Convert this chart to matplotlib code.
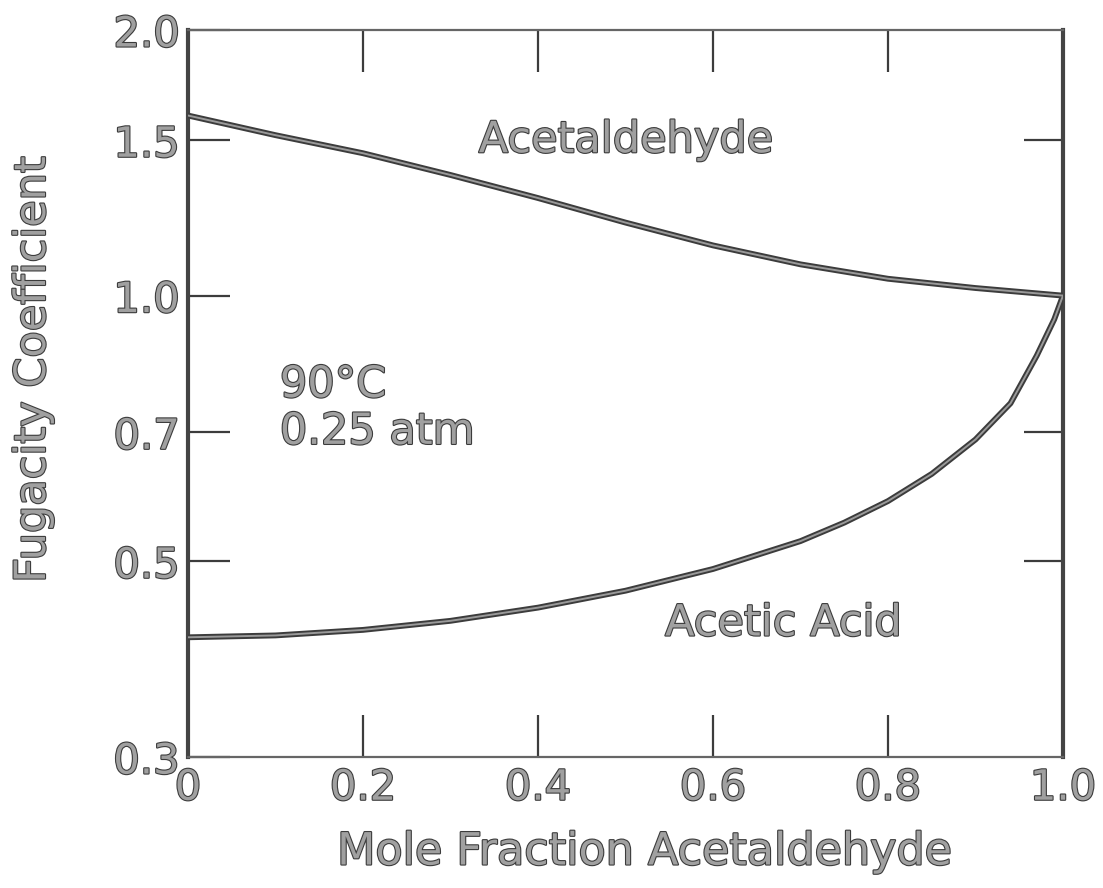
import matplotlib

matplotlib.use("Agg")
import matplotlib.pyplot as plt
import matplotlib.patheffects as pe
from matplotlib.ticker import FixedLocator, FixedFormatter, NullLocator

# mole fraction acetaldehyde vs fugacity coefficient
x_acetaldehyde = [0.0, 0.1, 0.2, 0.3, 0.4, 0.5, 0.6, 0.7, 0.8, 0.9, 1.0]
phi_acetaldehyde = [1.60, 1.52, 1.45, 1.37, 1.29, 1.21, 1.14, 1.085, 1.045, 1.02, 1.00]

x_acetic = [0.0, 0.1, 0.2, 0.3, 0.4, 0.5, 0.6, 0.7, 0.75, 0.8, 0.85, 0.9, 0.94, 0.97, 0.99, 1.0]
phi_acetic = [0.41, 0.412, 0.418, 0.428, 0.443, 0.463, 0.49, 0.527, 0.553, 0.585,
              0.628, 0.687, 0.755, 0.855, 0.94, 1.0]

x_ticks = [0.0, 0.2, 0.4, 0.6, 0.8, 1.0]
x_tick_labels = ["0", "0.2", "0.4", "0.6", "0.8", "1.0"]
y_ticks = [0.3, 0.5, 0.7, 1.0, 1.5, 2.0]
y_tick_labels = ["0.3", "0.5", "0.7", "1.0", "1.5", "2.0"]
y_ticks_right = [0.5, 0.7, 1.5]

INK = "#3c3c3c"
FILL = "#a0a0a0"
outline = [pe.withStroke(linewidth=1.6, foreground=INK)]

plt.rcParams["font.family"] = ["DejaVu Sans"]

fig = plt.figure(figsize=(11.03, 8.88), dpi=100)
ax = fig.add_axes([188 / 1103, 1 - 757 / 888, (1063 - 188) / 1103, (757 - 30) / 888])

for xs, ys in [(x_acetaldehyde, phi_acetaldehyde), (x_acetic, phi_acetic)]:
    ax.plot(xs, ys, color=INK, linewidth=4.2, solid_capstyle="round", zorder=3)
    ax.plot(xs, ys, color="#9a9a9a", linewidth=1.4, solid_capstyle="round", zorder=4)

ax.set_yscale("log")
ax.set_xlim(0, 1)
ax.set_ylim(0.3, 2.0)

ax.xaxis.set_major_locator(FixedLocator(x_ticks))
ax.xaxis.set_major_formatter(FixedFormatter(x_tick_labels))
ax.yaxis.set_major_locator(FixedLocator(y_ticks))
ax.yaxis.set_major_formatter(FixedFormatter(y_tick_labels))
ax.yaxis.set_minor_locator(NullLocator())
ax.xaxis.set_minor_locator(NullLocator())

ax.tick_params(axis="both", direction="in", length=30, width=1.6, color=INK,
               labelsize=30, labelcolor=FILL)
ax.tick_params(axis="x", top=True, bottom=True, pad=7)
ax.tick_params(axis="y", left=True, right=False, pad=6)
for lab in ax.get_xticklabels() + ax.get_yticklabels():
    lab.set_path_effects(outline)

right = ax.secondary_yaxis("right")
right.yaxis.set_major_locator(FixedLocator(y_ticks_right))
right.yaxis.set_minor_locator(NullLocator())
right.tick_params(direction="in", length=28, width=1.6, color=INK, labelright=False)
right.spines["right"].set_visible(False)

for side in ["left", "right"]:
    ax.spines[side].set_linewidth(3.0)
    ax.spines[side].set_color("#444444")
for side in ["top", "bottom"]:
    ax.spines[side].set_linewidth(1.6)
    ax.spines[side].set_color("#666666")

text_kw = dict(fontsize=31, color=FILL, path_effects=outline)
ax.text(0.5, 1.50, "Acetaldehyde", ha="center", va="center", **text_kw)
ax.text(0.105, 0.745, "90°C\n0.25 atm", ha="left", va="center", linespacing=1.15, **text_kw)
ax.text(0.68, 0.425, "Acetic Acid", ha="center", va="center", **text_kw)

fig.text(33 / 1103, 1 - 370 / 888, "Fugacity Coefficient", rotation=90,
         ha="center", va="center", **text_kw)
fig.text(645 / 1103, 1 - 852 / 888, "Mole Fraction Acetaldehyde",
         ha="center", va="center", fontsize=32, color=FILL, path_effects=outline)

fig.savefig("out.png", dpi=100, facecolor="white")
